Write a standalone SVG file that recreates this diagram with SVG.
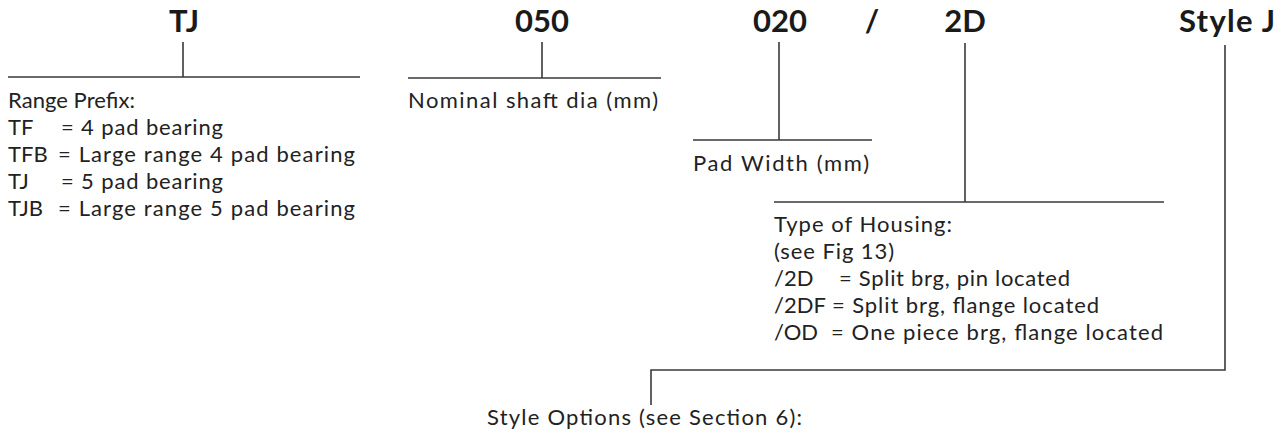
<svg xmlns="http://www.w3.org/2000/svg" width="1285" height="434" viewBox="0 0 1285 434">
<style>
.hd{font-family:Lato,"Open Sans","Liberation Sans",sans-serif;font-weight:bold;font-size:31px;fill:#1a1a1a;text-anchor:middle}
.tx{font-family:Lato,"Open Sans","Liberation Sans",sans-serif;font-size:22px;fill:#222}
.ln{stroke:#3a3a3a;stroke-width:1.6;fill:none}
</style>
<rect width="1285" height="434" fill="#fff"/>
<g id="connectors">
<path class="ln" d="M183 42V77M8 77H360"/>
<path class="ln" d="M542 42V78M408 78H661"/>
<path class="ln" d="M779 42V140M693 140H872"/>
<path class="ln" d="M965 43V202M774 202H1164"/>
<path class="ln" d="M1225 45V370H651V405"/>
</g>
<g id="node-tj">
<text class="hd" x="184" y="32">TJ</text>
</g>
<g id="node-050">
<text class="hd" x="542" y="32">050</text>
</g>
<g id="node-020">
<text class="hd" x="780" y="32">020</text>
</g>
<g id="node-slash">
<text class="hd" x="872" y="32">/</text>
</g>
<g id="node-2d">
<text class="hd" x="965" y="32">2D</text>
</g>
<g id="node-stylej">
<text class="hd" x="1227" y="32" textLength="96">Style J</text>
</g>
<g id="label-range">
<text class="tx"><tspan x="8" y="108" textLength="127">Range Prefix:</tspan><tspan x="8" y="135">TF</tspan><tspan x="61" y="135" textLength="162">= 4 pad bearing</tspan><tspan x="8" y="162">TFB</tspan><tspan x="58" y="162" textLength="297">= Large range 4 pad bearing</tspan><tspan x="8" y="189">TJ</tspan><tspan x="61" y="189" textLength="162">= 5 pad bearing</tspan><tspan x="8" y="216">TJB</tspan><tspan x="58" y="216" textLength="297">= Large range 5 pad bearing</tspan></text>
</g>
<g id="label-shaft">
<text class="tx" x="408" y="108" textLength="250">Nominal shaft dia (mm)</text>
</g>
<g id="label-pad">
<text class="tx" x="693" y="171" textLength="176">Pad Width (mm)</text>
</g>
<g id="label-housing">
<text class="tx"><tspan x="774" y="232" textLength="178">Type of Housing:</tspan><tspan x="774" y="259" textLength="120">(see Fig 13)</tspan><tspan x="774" y="286">/2D</tspan><tspan x="839" y="286" textLength="231">= Split brg, pin located</tspan><tspan x="774" y="313">/2DF</tspan><tspan x="832" y="313" textLength="267">= Split brg, flange located</tspan><tspan x="774" y="340">/OD</tspan><tspan x="831" y="340" textLength="332">= One piece brg, flange located</tspan></text>
</g>
<g id="label-style">
<text class="tx" x="487" y="425" textLength="315">Style Options (see Section 6):</text>
</g>
</svg>
